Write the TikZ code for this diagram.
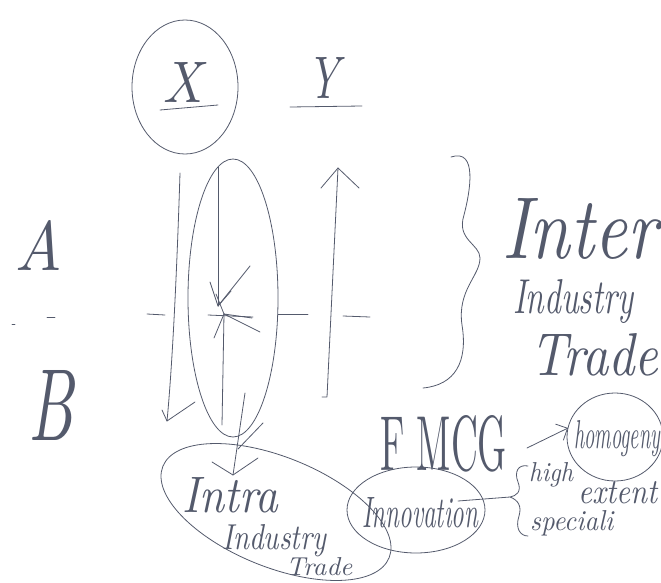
\documentclass[tikz,border=0pt]{standalone}
\usetikzlibrary{arrows.meta,shapes.geometric}
\definecolor{inkc}{RGB}{84,90,108}
\begin{document}
\begin{tikzpicture}[x=1pt,y=-1pt,
  ink/.style={draw=inkc,line width=0.8pt,line cap=round,line join=round},
  txt/.style={text=inkc,inner sep=0pt,anchor=base west,font=\itshape},
  oval/.style={ink,ellipse,inner sep=0pt},
  barb/.style={ink,-{Straight Barb[length=9pt,width=18pt,line width=0.8pt]}}]
\useasboundingbox (0,0) rectangle (661,583);

% ---- X and Y headers
\node[oval,minimum width=106pt,minimum height=134pt] (xc) at (185,87) {};
\node[txt] (X) at (162,103) {\resizebox{40pt}{40pt}{X}};
\coordinate (xu1) at (160,110); \coordinate (xu2) at (218,105);
\draw[ink] (xu1) -- (xu2);
\node[txt] (Y) at (307,99) {\resizebox{32pt}{41pt}{Y}};
\coordinate (yu1) at (290,107); \coordinate (yu2) at (362,106);
\draw[ink] (yu1) -- (yu2);

% ---- A and B
\node[txt] (A) at (14,270) {\resizebox{48pt}{50pt}{A}};
\node[txt] (B) at (28,440) {\resizebox{45pt}{70pt}{B}};

% ---- small dashes on the left
\coordinate (d1a) at (12,324); \coordinate (d1b) at (15,324);
\coordinate (d2a) at (47,317); \coordinate (d2b) at (55,317);
\draw[ink] (d1a) -- (d1b); \draw[ink] (d2a) -- (d2b);

% ---- axis dashes
\coordinate (h1a) at (147,314); \coordinate (h1b) at (165,315);
\coordinate (h2a) at (208,315); \coordinate (h2b) at (253,317);
\coordinate (h3a) at (278,314); \coordinate (h3b) at (308,314);
\coordinate (h4a) at (343,316); \coordinate (h4b) at (370,317);
\foreach \a/\b in {h1a/h1b,h2a/h2b,h3a/h3b,h4a/h4b} \draw[ink] (\a) -- (\b);

% ---- left long arrow (down)
\coordinate (la1) at (180,173); \coordinate (la2) at (167,421);
\coordinate (lab1) at (162,410); \coordinate (lab2) at (195,402);
\draw[ink] (la1) .. controls (176,300) and (171,380) .. (la2);
\draw[ink] (lab1) -- (la2) -- (lab2);

% ---- middle ellipse and its arrows
\node[oval,minimum width=90pt,minimum height=278pt] (mid) at (233,298) {};
\coordinate (c) at (224,314);
\coordinate (m1) at (218,167); \coordinate (m1t) at (218,306);
\draw[ink] (m1) -- (m1t);
\coordinate (mb1) at (210,282); \coordinate (mb2) at (231,291);
\draw[ink] (mb1) -- (m1t) -- (mb2);
\coordinate (m2) at (250,266);
\draw[ink] (m2) -- (m1t);
\coordinate (mb3) at (216,294);
\draw[ink] (mb3) -- (c);
\coordinate (s1) at (260,332); \coordinate (s2) at (214,338); \coordinate (s3) at (252,318);
\draw[ink] (c) -- (s1); \draw[ink] (c) -- (s2); \draw[ink] (c) -- (s3);
\coordinate (md) at (222,425);
\draw[ink] (c) -- (md);

% ---- right long arrow (up)
\coordinate (ra1) at (327,397); \coordinate (ra2) at (338,168);
\coordinate (rab1) at (321,188); \coordinate (rab2) at (359,188);
\coordinate (raf) at (322,397);
\draw[ink] (raf) -- (ra1) -- (ra2);
\draw[ink] (rab1) -- (ra2) -- (rab2);

% ---- big brace and Inter-industry trade
\coordinate (br1) at (451,157); \coordinate (brm) at (480,258); \coordinate (br2) at (423,388);
\draw[ink] (br1) .. controls (478,148) and (470,192) .. (464,215)
   .. controls (456,240) and (480,244) .. (brm)
   .. controls (480,276) and (457,290) .. (462,325)
   .. controls (468,362) and (455,385) .. (br2);
\node[txt] (inter) at (502,258) {\resizebox{155pt}{60pt}{Inter}};
\node[txt] (ind1) at (513,313) {\resizebox{120pt}{34pt}{Industry}};
\node[txt] (tr1) at (530,375) {\resizebox{128pt}{42pt}{Trade}};

% ---- arrow from middle ellipse into Intra-industry trade
\coordinate (da1) at (245,393); \coordinate (dat) at (233,475);
\coordinate (dab1) at (212,462); \coordinate (dab2) at (258,458);
\coordinate (dx1) at (263,423); \coordinate (dx2) at (238,449);
\draw[ink] (da1) -- (dat);
\draw[ink] (dab1) -- (dat) -- (dab2);
\draw[ink] (dx1) -- (dx2);

% ---- Intra-industry trade
\node[oval,minimum width=244pt,minimum height=110pt,rotate=-22] (intra) at (276,512) {};
\node[txt] (t1) at (182,512) {\resizebox{96pt}{35pt}{Intra}};
\node[txt] (t2) at (222,549) {\resizebox{104pt}{25pt}{Industry}};
\node[txt] (t3) at (286,575) {\resizebox{66pt}{18pt}{Trade}};

% ---- Innovation
\node[oval,minimum width=138pt,minimum height=86pt] (innov) at (416,510) {};
\node[txt] (innovt) at (362,527) {\resizebox{116pt}{30pt}{Innovation}};

% ---- FMCG and homogeneous
\node[txt,font=\upshape] (fmcg) at (380,470) {\resizebox{127pt}{55pt}{F MCG}};
\node[oval,minimum width=96pt,minimum height=88pt] (hom) at (615,437) {};
\node[txt] (homt) at (574,448) {\resizebox{86pt}{28pt}{homogeny}};
\coordinate (fa1) at (527,448); \coordinate (fa2) at (568,428);
\draw[barb] (fa1) -- (fa2);

% ---- small brace: high extent speciali
\coordinate (sb1) at (528,466); \coordinate (sbm) at (510,497); \coordinate (sb2) at (528,536);
\draw[ink] (sb1) .. controls (518,464) and (514,472) .. (518,482)
   .. controls (522,492) and (516,496) .. (sbm)
   .. controls (518,500) and (522,506) .. (519,516)
   .. controls (515,528) and (520,536) .. (sb2);
\coordinate (il1) at (458,501);
\draw[ink] (il1) -- (sbm);
\node[txt] (high) at (529,481) {\resizebox{44pt}{19pt}{high}};
\node[txt] (extent) at (578,503) {\resizebox{79pt}{22pt}{extent}};
\node[txt] (spec) at (530,530) {\resizebox{83pt}{20pt}{speciali}};
\end{tikzpicture}
\end{document}
